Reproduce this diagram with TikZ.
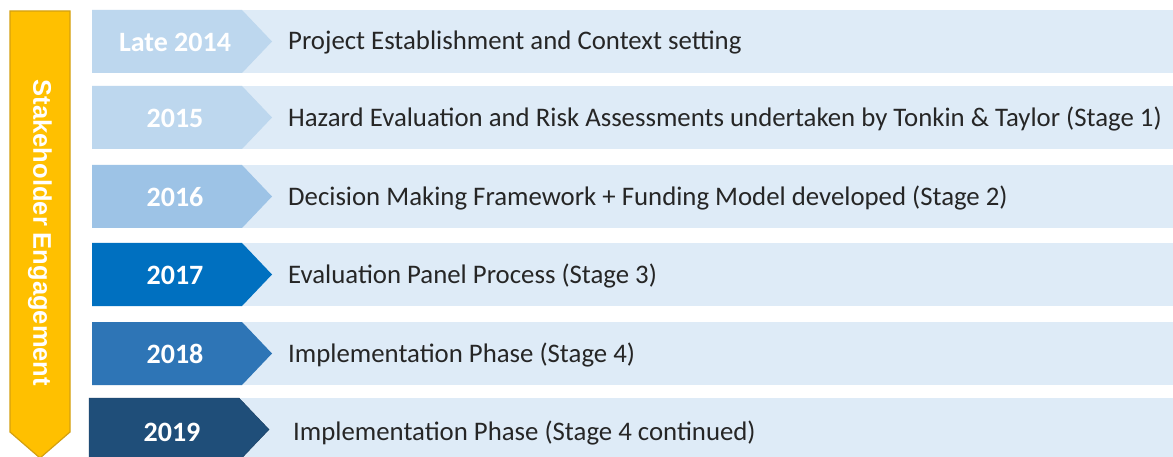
\documentclass[tikz,border=0pt]{standalone}
\usepackage{fontspec}
\setmainfont{Carlito}
\newfontfamily\arialfont{Liberation Sans}

\definecolor{rowbg}{HTML}{DEEBF7}
\definecolor{yrpale}{HTML}{BDD7EE}
\definecolor{yrlight}{HTML}{9DC3E6}
\definecolor{yrmid}{HTML}{0070C0}
\definecolor{yrsteel}{HTML}{2E75B6}
\definecolor{yrdark}{HTML}{1F4E79}
\definecolor{gold}{HTML}{FFC000}
\definecolor{golddark}{HTML}{D4A010}

\tikzset{
  year/.style={text=white,font=\fontsize{28}{32}\selectfont\bfseries},
  phase/.style={anchor=west,inner sep=0pt,text=black!85,font=\fontsize{26.8}{31}\selectfont},
  stakelabel/.style={rotate=-90,text=white,font=\arialfont\bfseries\fontsize{25.5}{30}\selectfont},
}

\begin{document}
\begin{tikzpicture}[x=1pt,y=-1pt]
\pgfmathsetmacro{\rowh}{63}
\pgfmathsetmacro{\body}{150}
\pgfmathsetmacro{\tip}{30}
\clip (0,0) rectangle (1173,457);
\fill[white] (0,0) rectangle (1173,457);

% stakeholder arrow down the left side
\draw[golddark,fill=gold,line width=1.2pt] (10,11) -- (70,11) -- (70,432) -- (40,458) -- (10,432) -- cycle;
\node[stakelabel] (stake) at (40,233) {Stakeholder Engagement};

% row backgrounds
\fill[rowbg] (92,10) rectangle (1173,73);
\fill[rowbg] (92,86) rectangle (1173,149);
\fill[rowbg] (92,165) rectangle (1173,228);
\fill[rowbg] (92,243) rectangle (1173,306);
\fill[rowbg] (92,322) rectangle (1173,385);
\fill[rowbg] (89,398) rectangle (1173,461);

% year chevrons
\fill[yrpale] (92,10) -- ++(\body,0) -- ++(\tip,\rowh/2) -- ++(-\tip,\rowh/2) -- ++(-\body,0) -- cycle;
\fill[yrpale] (92,86) -- ++(\body,0) -- ++(\tip,\rowh/2) -- ++(-\tip,\rowh/2) -- ++(-\body,0) -- cycle;
\fill[yrlight] (92,165) -- ++(\body,0) -- ++(\tip,\rowh/2) -- ++(-\tip,\rowh/2) -- ++(-\body,0) -- cycle;
\fill[yrmid] (92,243) -- ++(\body,0) -- ++(\tip,\rowh/2) -- ++(-\tip,\rowh/2) -- ++(-\body,0) -- cycle;
\fill[yrsteel] (92,322) -- ++(\body,0) -- ++(\tip,\rowh/2) -- ++(-\tip,\rowh/2) -- ++(-\body,0) -- cycle;
\draw[yrdark!80!black,fill=yrdark] (89,398) -- ++(\body,0) -- ++(\tip,\rowh/2) -- ++(-\tip,\rowh/2) -- ++(-\body,0) -- cycle;

% years
\node[year] (y2014) at (175,42) {Late 2014};
\node[year] (y2015) at (175,118) {2015};
\node[year] (y2016) at (175,197) {2016};
\node[year] (y2017) at (175,275) {2017};
\node[year] (y2018) at (175,354) {2018};
\node[year] (y2019) at (172,432) {2019};

% phases
\node[phase] (p2014) at (288,43) {Project Establishment and Context setting};
\node[phase] (p2015) at (288,119) {Hazard Evaluation and Risk Assessments undertaken by Tonkin \& Taylor (Stage 1)};
\node[phase] (p2016) at (288,198) {Decision Making Framework + Funding Model developed (Stage 2)};
\node[phase] (p2017) at (288,276) {Evaluation Panel Process (Stage 3)};
\node[phase] (p2018) at (288,355) {Implementation Phase (Stage 4)};
\node[phase] (p2019) at (293,433) {Implementation Phase (Stage 4 continued)};
\end{tikzpicture}
\end{document}
